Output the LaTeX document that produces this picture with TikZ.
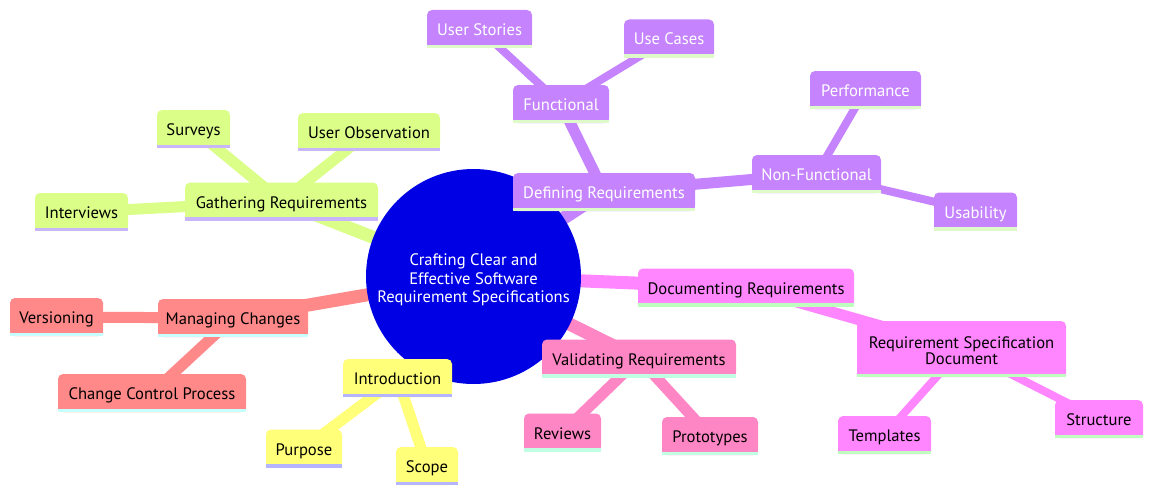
\documentclass[tikz,border=0pt]{standalone}
\usepackage{fontspec}
\setmainfont{PT Sans}
\usetikzlibrary{backgrounds}
\definecolor{rootf}{RGB}{0,0,228}
\definecolor{gaf}{RGB}{218,254,136}\definecolor{gas}{RGB}{201,182,250}\colorlet{gat}{black}
\definecolor{def}{RGB}{197,132,253}\definecolor{des}{RGB}{222,250,200}\colorlet{det}{white}
\definecolor{dof}{RGB}{255,134,255}\definecolor{dos}{RGB}{190,255,192}\colorlet{dot}{black}
\definecolor{vaf}{RGB}{255,134,196}\definecolor{vas}{RGB}{192,255,226}\colorlet{vat}{black}
\definecolor{maf}{RGB}{255,136,136}\definecolor{mas}{RGB}{200,255,255}\colorlet{mat}{black}
\definecolor{inf}{RGB}{255,255,122}\definecolor{ins}{RGB}{180,180,255}\colorlet{int}{black}
\newcommand\mmnode[7][]{%
  \node[mmbox, fill=#6f, text=#6t, minimum width=#5pt, #1] (#2) at (#3,#4) {#7};
  \fill[#6f] ([yshift=6pt]#2.south west) rectangle (#2.south east);
  \fill[#6s] ([yshift=3.5pt]#2.south west) rectangle (#2.south east);
}
\newcommand\lowered[2]{\raisebox{-#1}[\height][\depth]{#2}}
\begin{document}
\begin{tikzpicture}[x=1pt,y=-1pt,
  mmbox/.style={rectangle, rounded corners=5pt, inner sep=0pt, align=center,
    minimum height=38pt, text height=13pt, text depth=0pt,
    font=\fontsize{16.6}{17.5}\selectfont},
  multiline/.style={text height={}, text depth={}},
  rootnode/.style={circle, fill=rootf, text=white, inner sep=0pt, minimum size=215pt,
    font=\fontsize{16.6}{18.5}\selectfont},
  eone/.style={line width=13pt},
  etwo/.style={line width=11pt},
  ethree/.style={line width=8pt}]
\useasboundingbox (0,0) rectangle (1153,495);

\node[rootnode] (root) at (473.5,276.5) {\lowered{4pt}{\begin{tabular}{@{}c@{}}Crafting Clear and\\Effective Software\\Requirement Specifications\end{tabular}}};

% Gathering
\mmnode{gr}{281.5}{201.5}{193}{ga}{Gathering Requirements}
\mmnode{sv}{193.5}{129}{73}{ga}{Surveys}
\mmnode{uo}{369}{132}{142}{ga}{User Observation}
\mmnode{iv}{81.5}{212}{93}{ga}{Interviews}
% Defining
\mmnode{dr}{604}{192}{182}{de}{Defining Requirements}
\mmnode{fn}{561}{104}{96}{de}{Functional}
\mmnode{us}{479.5}{29}{105}{de}{User Stories}
\mmnode{uc}{669}{38.5}{90}{de}{Use Cases}
\mmnode{nf}{816.5}{174}{129}{de}{Non-Functional}
\mmnode{pf}{865.5}{90}{111}{de}{Performance}
\mmnode{ub}{975.5}{211.5}{83}{de}{Usability}
% Documenting
\mmnode{doc}{746}{287.5}{216}{do}{Documenting Requirements}
\mmnode[minimum height=56pt, multiline]{rsd}{961.5}{349}{209}{do}{\lowered{4pt}{\fontsize{16.6}{16.5}\selectfont\begin{tabular}{@{}c@{}}Requirement Specification\\Document\end{tabular}}}
\mmnode{tp}{884.5}{435}{93}{do}{Templates}
\mmnode{st}{1099}{419}{88}{do}{Structure}
% Validating
\mmnode{vr}{639}{358.5}{194}{va}{Validating Requirements}
\mmnode{rv}{562.5}{432.5}{77}{va}{Reviews}
\mmnode{pt}{710}{436}{96}{va}{Prototypes}
% Managing
\mmnode{mc}{233}{318}{150}{ma}{Managing Changes}
\mmnode{vs}{56.5}{317}{93}{ma}{Versioning}
\mmnode{cc}{152}{393}{188}{ma}{Change Control Process}
% Introduction
\mmnode{it}{397.5}{378}{109}{in}{Introduction}
\mmnode{pp}{304}{448.5}{76}{in}{Purpose}
\mmnode{sc}{427}{466}{62}{in}{Scope}

\begin{scope}[on background layer]
  \draw[eone, gaf] (root.center) -- (gr.center);
  \draw[etwo, gaf] (gr.center) -- (sv.center);
  \draw[etwo, gaf] (gr.center) -- (uo.center);
  \draw[etwo, gaf] (gr.center) -- (iv.center);
  \draw[eone, def] (root.center) -- (dr.center);
  \draw[etwo, def] (dr.center) -- (fn.center);
  \draw[ethree, def] (fn.center) -- (us.center);
  \draw[ethree, def] (fn.center) -- (uc.center);
  \draw[etwo, def] (dr.center) -- (nf.center);
  \draw[ethree, def] (nf.center) -- (pf.center);
  \draw[ethree, def] (nf.center) -- (ub.center);
  \draw[eone, dof] (root.center) -- (doc.center);
  \draw[etwo, dof] (doc.center) -- (rsd.center);
  \draw[ethree, dof] (rsd.center) -- (tp.center);
  \draw[ethree, dof] (rsd.center) -- (st.center);
  \draw[eone, vaf] (root.center) -- (vr.center);
  \draw[etwo, vaf] (vr.center) -- (rv.center);
  \draw[etwo, vaf] (vr.center) -- (pt.center);
  \draw[eone, maf] (root.center) -- (mc.center);
  \draw[etwo, maf] (mc.center) -- (vs.center);
  \draw[etwo, maf] (mc.center) -- (cc.center);
  \draw[eone, inf] (root.center) -- (it.center);
  \draw[etwo, inf] (it.center) -- (pp.center);
  \draw[etwo, inf] (it.center) -- (sc.center);
\end{scope}
\end{tikzpicture}
\end{document}
